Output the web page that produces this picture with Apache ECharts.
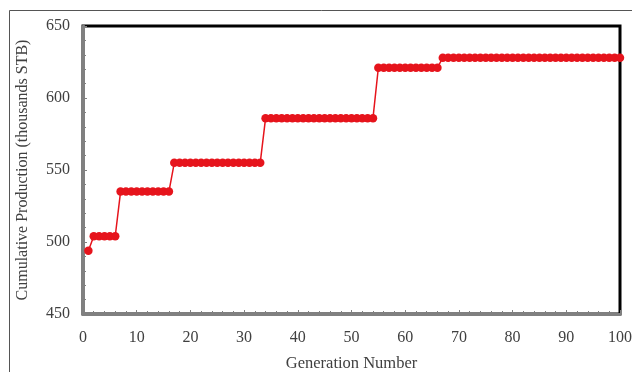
<!DOCTYPE html>
<html>
<head>
<meta charset="utf-8">
<script src="https://cdn.jsdelivr.net/npm/echarts@6/dist/echarts.min.js"></script>
<style>
html, body { margin: 0; padding: 0; background: #fff; }
#chart { width: 632px; height: 372px; }
</style>
</head>
<body>
<div id="chart"></div>
<script>
// generation numbers and cumulative production (thousands STB)
var generations = [
  1, 2, 3, 4, 5, 6, 7, 8, 9, 10, 11, 12, 13, 14, 15, 16, 17, 18, 19, 20,
  21, 22, 23, 24, 25, 26, 27, 28, 29, 30, 31, 32, 33, 34, 35, 36, 37, 38, 39, 40,
  41, 42, 43, 44, 45, 46, 47, 48, 49, 50, 51, 52, 53, 54, 55, 56, 57, 58, 59, 60,
  61, 62, 63, 64, 65, 66, 67, 68, 69, 70, 71, 72, 73, 74, 75, 76, 77, 78, 79, 80,
  81, 82, 83, 84, 85, 86, 87, 88, 89, 90, 91, 92, 93, 94, 95, 96, 97, 98, 99, 100
];
var production = [
  494, 504, 504, 504, 504, 504, 535, 535, 535, 535, 535, 535, 535, 535, 535, 535, 555, 555, 555, 555,
  555, 555, 555, 555, 555, 555, 555, 555, 555, 555, 555, 555, 555, 586, 586, 586, 586, 586, 586, 586,
  586, 586, 586, 586, 586, 586, 586, 586, 586, 586, 586, 586, 586, 586, 621, 621, 621, 621, 621, 621,
  621, 621, 621, 621, 621, 621, 628, 628, 628, 628, 628, 628, 628, 628, 628, 628, 628, 628, 628, 628,
  628, 628, 628, 628, 628, 628, 628, 628, 628, 628, 628, 628, 628, 628, 628, 628, 628, 628, 628, 628
];
var xName = 'Generation Number';
var yName = 'Cumulative Production (thousands STB)';

var points = generations.map(function (g, i) { return [g, production[i]]; });

var myChart = echarts.init(document.getElementById('chart'));
var font = '"Liberation Serif", "DejaVu Serif", serif';
var option = {
  animation: false,
  backgroundColor: '#fff',
  graphic: [
    {
      type: 'rect',
      shape: { x: 9.5, y: 10.5, width: 700, height: 500 },
      style: { fill: 'none', stroke: '#555', lineWidth: 1 },
      silent: true
    }
  ],
  grid: {
    left: 83, top: 26, right: 12, bottom: 58,
    outerBoundsMode: 'none',
    containLabel: false,
    show: true,
    borderColor: '#000',
    borderWidth: 3,
    backgroundColor: 'transparent'
  },
  xAxis: {
    type: 'value',
    min: 0, max: 100, interval: 10,
    name: xName,
    nameLocation: 'middle',
    nameGap: 41,
    nameTextStyle: { fontFamily: font, fontSize: 16.5, color: '#404040' },
    axisLine: { lineStyle: { color: '#808080', width: 3 } },
    axisTick: { inside: true, length: 4, lineStyle: { color: '#808080' } },
    minorTick: { show: true, splitNumber: 5, length: 3, lineStyle: { color: '#808080' } },
    splitLine: { show: false },
    axisLabel: { fontFamily: font, fontSize: 16, color: '#404040', margin: 16 }
  },
  yAxis: {
    type: 'value',
    min: 450, max: 650, interval: 50,
    name: yName,
    nameLocation: 'middle',
    nameGap: 52,
    nameTextStyle: { fontFamily: font, fontSize: 16, color: '#404040' },
    axisLine: { show: true, lineStyle: { color: '#808080', width: 3 } },
    axisTick: { show: true, inside: true, length: 4, lineStyle: { color: '#808080' } },
    minorTick: { show: true, splitNumber: 5, length: 3, lineStyle: { color: '#808080' } },
    splitLine: { show: false },
    axisLabel: { fontFamily: font, fontSize: 16, color: '#404040', margin: 13 }
  },
  series: [
    {
      type: 'line',
      data: points,
      symbol: 'circle',
      symbolSize: 8.5,
      itemStyle: { color: '#e6141c' },
      lineStyle: { color: '#e6141c', width: 1.5 }
    }
  ]
};
myChart.setOption(option);
</script>
</body>
</html>
